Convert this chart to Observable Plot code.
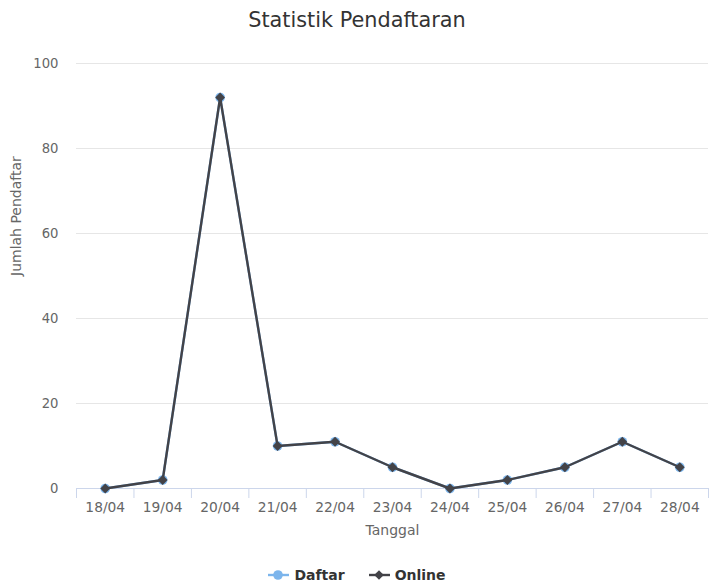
<!DOCTYPE html>
<html><head><meta charset="utf-8">
<script src="https://cdn.jsdelivr.net/npm/d3@7"></script>
<script src="https://cdn.jsdelivr.net/npm/@observablehq/plot@0.6"></script>
<style>
body{margin:0;background:#fff;font-family:"DejaVu Sans",sans-serif;width:714px;}
#title{height:40px;line-height:40px;text-align:center;font-size:20.8px;color:#333;}
#chart svg{display:block;}
#legend{height:38px;display:flex;justify-content:center;align-items:flex-start;padding-top:0;}
.item{display:flex;align-items:center;margin:0 12px;font-weight:bold;font-size:14px;color:#333;height:18px;margin-top:21px;}
.item svg{margin-right:5px;}
</style></head>
<body>
<div id="title">Statistik Pendaftaran</div>
<div id="chart"></div>
<div id="legend"></div>
<script>
const dates = ["18/04","19/04","20/04","21/04","22/04","23/04","24/04","25/04","26/04","27/04","28/04"];
const daftar = [0,2,92,10,11,5,0,2,5,11,5];
const online = [0,2,92,10,11,5,0,2,5,11,5];
const yTicks = [0,20,40,60,80,100];
const seriesNames = ["Daftar","Online"];
const seriesColors = ["#7cb5ec","#434348"];

const data = dates.map((d,i)=>({i, date:d, daftar:daftar[i], online:online[i]}));
const idx = dates.map((d,i)=>i);
const bounds = d3.range(dates.length+1).map(k=>k-0.5);

const chart = Plot.plot({
  width:714, height:505,
  marginLeft:76, marginRight:6, marginTop:23, marginBottom:57,
  style:{fontFamily:"DejaVu Sans", background:"#fff"},
  x:{domain:[-0.5, dates.length-0.5]},
  y:{domain:[0,100]},
  marks:[
    Plot.ruleY(yTicks.filter(v=>v>0), {stroke:"#e6e6e6", strokeWidth:1}),
    Plot.ruleY([0], {stroke:"#ccd6eb", strokeWidth:1}),
    Plot.axisX({ticks:bounds, tickSize:10, tickFormat:()=>"", stroke:"#ccd6eb", strokeOpacity:1, label:null}),
    Plot.axisX({ticks:idx, tickSize:0, tickPadding:14, tickFormat:i=>dates[i], fontSize:13.8, fill:"#666", label:null}),
    Plot.axisY({ticks:yTicks, tickSize:0, tickPadding:18, fontSize:13.2, fill:"#666", label:null}),
    Plot.text(["Tanggal"], {frameAnchor:"bottom", dy:42, fontSize:14, fill:"#666", lineAnchor:"middle"}),
    Plot.text(["Jumlah Pendaftar"], {frameAnchor:"left", dx:-60, rotate:-90, fontSize:14, fill:"#666", lineAnchor:"middle"}),
    Plot.line(data, {x:"i", y:"daftar", stroke:seriesColors[0], strokeWidth:2.4}),
    Plot.dot(data, {x:"i", y:"daftar", r:4.8, fill:seriesColors[0], symbol:"circle"}),
    Plot.line(data, {x:"i", y:"online", stroke:seriesColors[1], strokeWidth:2.4}),
    Plot.dot(data, {x:"i", y:"online", r:4.4, fill:seriesColors[1], symbol:"diamond2"})
  ]
});
document.getElementById("chart").appendChild(chart);

const legend = document.getElementById("legend");
seriesNames.forEach((name,k)=>{
  const it = document.createElement("div");
  it.className = "item";
  const marker = k===0
    ? `<circle cx="10" cy="6" r="4.8" fill="${seriesColors[k]}"/>`
    : `<path d="M10,1.2 L14.8,6 L10,10.8 L5.2,6 Z" fill="${seriesColors[k]}"/>`;
  it.innerHTML = `<svg width="21" height="12"><line x1="0" x2="21" y1="6" y2="6" stroke="${seriesColors[k]}" stroke-width="2.4"/>${marker}</svg><span>${name}</span>`;
  legend.appendChild(it);
});
</script>
</body></html>
